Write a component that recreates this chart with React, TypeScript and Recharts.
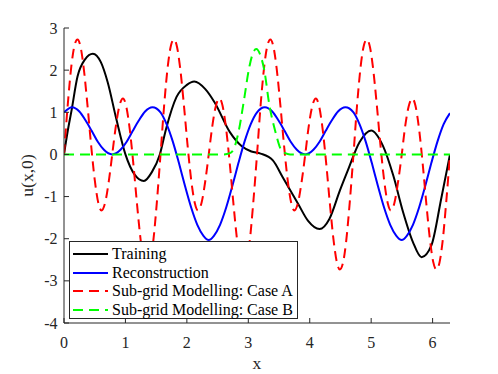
import React from "react";
import { LineChart, Line, XAxis, YAxis, Label } from "recharts";

const FONT = "Liberation Serif, Times New Roman, serif";
const AXIS = "#262626";

// axis ticks
const xTicks = [0, 1, 2, 3, 4, 5, 6];
const yTicks = [-4, -3, -2, -1, 0, 1, 2, 3];
const X_MAX = 6.2832;

// Training (black)
const trainingX = [0, 0.06, 0.12, 0.22, 0.34, 0.47, 0.6, 0.71, 0.85, 1.0, 1.15, 1.3, 1.43, 1.56, 1.66, 1.83, 2.0, 2.12, 2.3, 2.45, 2.7, 2.89, 3.05, 3.2, 3.4, 3.56, 3.81, 3.97, 4.16, 4.32, 4.49, 4.62, 4.81, 5.0, 5.19, 5.36, 5.52, 5.68, 5.82, 5.98, 6.14, 6.283];
const trainingY = [0, 0.55, 1.02, 1.85, 2.25, 2.39, 2.19, 1.72, 0.85, 0, -0.48, -0.63, -0.42, 0, 0.6, 1.36, 1.65, 1.73, 1.55, 1.24, 0.53, 0.2, 0.07, 0.02, -0.14, -0.54, -1.17, -1.57, -1.77, -1.53, -0.86, -0.38, 0.29, 0.57, 0.21, -0.5, -1.37, -2.08, -2.44, -2.16, -1.05, 0];

// Reconstruction (blue)
const reconX = [0, 0.13, 0.25, 0.35, 0.45, 0.55, 0.65, 0.785, 0.92, 1.02, 1.12, 1.22, 1.32, 1.44, 1.571, 1.67, 1.77, 1.87, 1.97, 2.07, 2.17, 2.27, 2.356, 2.44, 2.54, 2.64, 2.74, 2.84, 2.94, 3.04, 3.142,
  3.27, 3.39, 3.49, 3.59, 3.69, 3.79, 3.927, 4.06, 4.16, 4.26, 4.36, 4.46, 4.58, 4.712, 4.81, 4.91, 5.01, 5.11, 5.21, 5.31, 5.41, 5.498, 5.58, 5.68, 5.78, 5.88, 5.98, 6.08, 6.18, 6.283];
const reconY = [1.0, 1.12, 1.02, 0.81, 0.56, 0.3, 0.11, 0, 0.11, 0.3, 0.56, 0.81, 1.02, 1.12, 1.0, 0.72, 0.31, -0.2, -0.75, -1.26, -1.67, -1.93, -2.03, -1.93, -1.67, -1.26, -0.75, -0.2, 0.31, 0.72, 1.0,
  1.12, 1.02, 0.81, 0.56, 0.3, 0.11, 0, 0.11, 0.3, 0.56, 0.81, 1.02, 1.12, 1.0, 0.72, 0.31, -0.2, -0.75, -1.26, -1.67, -1.93, -2.03, -1.93, -1.67, -1.26, -0.75, -0.2, 0.31, 0.72, 0.98];

// Sub-grid Modelling: Case A (red dashed)
const caseAX = [
  0, 0.06, 0.12, 0.17, 0.22, 0.27, 0.32, 0.38, 0.44, 0.5, 0.56, 0.61, 0.67, 0.73, 0.785, 0.84, 0.9, 0.96, 1.01, 1.07, 1.13, 1.19, 1.25, 1.3, 1.35, 1.4, 1.45, 1.51,
  1.571, 1.63, 1.69, 1.74, 1.79, 1.84, 1.89, 1.95, 2.01, 2.07, 2.13, 2.18, 2.24, 2.3, 2.356, 2.41, 2.47, 2.53, 2.58, 2.64, 2.7, 2.76, 2.82, 2.87, 2.92, 2.97, 3.02, 3.08,
  3.142, 3.2, 3.26, 3.31, 3.36, 3.41, 3.46, 3.52, 3.58, 3.64, 3.7, 3.75, 3.81, 3.87, 3.927, 3.98, 4.04, 4.1, 4.15, 4.21, 4.27, 4.33, 4.39, 4.44, 4.49, 4.54, 4.59, 4.65,
  4.712, 4.77, 4.83, 4.88, 4.93, 4.98, 5.03, 5.09, 5.15, 5.21, 5.27, 5.32, 5.38, 5.44, 5.498, 5.55, 5.61, 5.67, 5.72, 5.78, 5.84, 5.9, 5.96, 6.01, 6.06, 6.11, 6.16, 6.22,
  6.283,
];
const caseAY = [
  0, 1.16, 2.1, 2.58, 2.73, 2.55, 2.06, 1.2, 0.24, -0.6, -1.16, -1.33, -1.14, -0.63, 0, 0.63, 1.14, 1.33, 1.16, 0.6, -0.24, -1.2, -2.06, -2.55, -2.73, -2.58, -2.1, -1.16,
  0, 1.16, 2.1, 2.58, 2.73, 2.55, 2.06, 1.2, 0.24, -0.6, -1.16, -1.33, -1.14, -0.63, 0, 0.63, 1.14, 1.33, 1.16, 0.6, -0.24, -1.2, -2.06, -2.55, -2.73, -2.58, -2.1, -1.16,
  0, 1.16, 2.1, 2.58, 2.73, 2.55, 2.06, 1.2, 0.24, -0.6, -1.16, -1.33, -1.14, -0.63, 0, 0.63, 1.14, 1.33, 1.16, 0.6, -0.24, -1.2, -2.06, -2.55, -2.73, -2.58, -2.1, -1.16,
  0, 1.16, 2.1, 2.58, 2.73, 2.55, 2.06, 1.2, 0.24, -0.6, -1.16, -1.33, -1.14, -0.63, 0, 0.63, 1.14, 1.33, 1.16, 0.6, -0.24, -1.2, -2.06, -2.55, -2.73, -2.58, -2.1, -1.16,
  0,
];

// Sub-grid Modelling: Case B (green dashed)
const caseBX = [0, 2.6, 2.7, 2.76, 2.85, 2.92, 3.02, 3.08, 3.13, 3.19, 3.26, 3.34, 3.45, 3.53, 3.6, 3.68, 6.283];
const caseBY = [0, 0, 0.03, 0.12, 0.6, 1.2, 2.1, 2.42, 2.5, 2.38, 2.0, 1.2, 0.49, 0.12, 0.03, 0, 0];

const zip = (xs: number[], ys: number[]) => xs.map((x, i) => ({ x, y: ys[i] }));

const series = [
  { name: "Training", color: "#000000", dash: undefined, data: zip(trainingX, trainingY) },
  { name: "Reconstruction", color: "#0000ff", dash: undefined, data: zip(reconX, reconY) },
  { name: "Sub-grid Modelling: Case A", color: "#ff0000", dash: "10 6", data: zip(caseAX, caseAY) },
  { name: "Sub-grid Modelling: Case B", color: "#00ff00", dash: "10 6", data: zip(caseBX, caseBY) },
];

// inward ticks, matlab style
const BottomTick = (p: any) => (
  <g>
    <line x1={p.x} y1={p.y} x2={p.x} y2={p.y - 5} stroke={AXIS} />
    <text x={p.x} y={p.y + 24.5} textAnchor="middle" fontFamily={FONT} fontSize={16} fill={AXIS}>
      {p.payload.value}
    </text>
  </g>
);
const TopTick = (p: any) => <line x1={p.x} y1={p.y} x2={p.x} y2={p.y + 5} stroke={AXIS} />;
const LeftTick = (p: any) => (
  <g>
    <line x1={p.x} y1={p.y} x2={p.x + 5} y2={p.y} stroke={AXIS} />
    <text x={p.x - 6.5} y={p.y + 5.5} textAnchor="end" fontFamily={FONT} fontSize={16} fill={AXIS}>
      {p.payload.value}
    </text>
  </g>
);
const RightTick = (p: any) => <line x1={p.x} y1={p.y} x2={p.x - 5} y2={p.y} stroke={AXIS} />;

const LegendBox = () => (
  <div
    style={{
      position: "absolute",
      left: 69,
      top: 241,
      width: 229,
      height: 78,
      boxSizing: "border-box",
      border: `1px solid ${AXIS}`,
      background: "#ffffff",
      paddingTop: 3,
      fontFamily: FONT,
      fontSize: 16,
      color: "#000000",
    }}
  >
    {series.map((s) => (
      <div key={s.name} style={{ display: "flex", alignItems: "center", height: 18.5, whiteSpace: "nowrap" }}>
        <svg width={35} height={6} style={{ marginLeft: 3, flex: "none" }}>
          <line x1={0} y1={3} x2={35} y2={3} stroke={s.color} strokeWidth={2} strokeDasharray={s.dash} />
        </svg>
        <span style={{ marginLeft: 4, lineHeight: "18px" }}>{s.name}</span>
      </div>
    ))}
  </div>
);

export default function App() {
  return (
    <div style={{ position: "absolute", left: 0, top: 0, width: 498, height: 374, background: "#ffffff" }}>
      <LineChart width={498} height={374} margin={{ top: 28, right: 48, bottom: 0, left: 0 }}>
        <XAxis
          dataKey="x"
          type="number"
          domain={[0, X_MAX]}
          ticks={xTicks}
          interval={0}
          height={51}
          tickSize={0}
          tickMargin={0}
          tickLine={false}
          stroke={AXIS}
          tick={BottomTick}
          allowDataOverflow
        >
          <Label value="x" position="insideBottom" offset={5} style={{ fontFamily: FONT, fontSize: 17.6, fill: AXIS }} />
        </XAxis>
        <XAxis
          xAxisId="top"
          orientation="top"
          dataKey="x"
          type="number"
          domain={[0, X_MAX]}
          ticks={xTicks}
          interval={0}
          height={0}
          tickSize={0}
          tickMargin={0}
          tickLine={false}
          stroke={AXIS}
          tick={TopTick}
          allowDataOverflow
        />
        <YAxis
          type="number"
          domain={[-4, 3]}
          ticks={yTicks}
          interval={0}
          width={64}
          tickSize={0}
          tickMargin={0}
          tickLine={false}
          stroke={AXIS}
          tick={LeftTick}
          allowDataOverflow
        >
          <Label
            value="u(x,0)"
            angle={-90}
            position="insideLeft"
            offset={27}
            style={{ fontFamily: FONT, fontSize: 17.6, fill: AXIS, textAnchor: "middle" }}
          />
        </YAxis>
        <YAxis
          yAxisId="right"
          orientation="right"
          type="number"
          domain={[-4, 3]}
          ticks={yTicks}
          interval={0}
          width={0}
          tickSize={0}
          tickMargin={0}
          tickLine={false}
          stroke={AXIS}
          tick={RightTick}
          allowDataOverflow
        />
        {series.map((s) => (
          <Line
            key={s.name}
            data={s.data}
            dataKey="y"
            name={s.name}
            type="monotone"
            stroke={s.color}
            strokeWidth={2}
            strokeDasharray={s.dash}
            dot={false}
            activeDot={false}
            isAnimationActive={false}
          />
        ))}
      </LineChart>
      <LegendBox />
    </div>
  );
}
